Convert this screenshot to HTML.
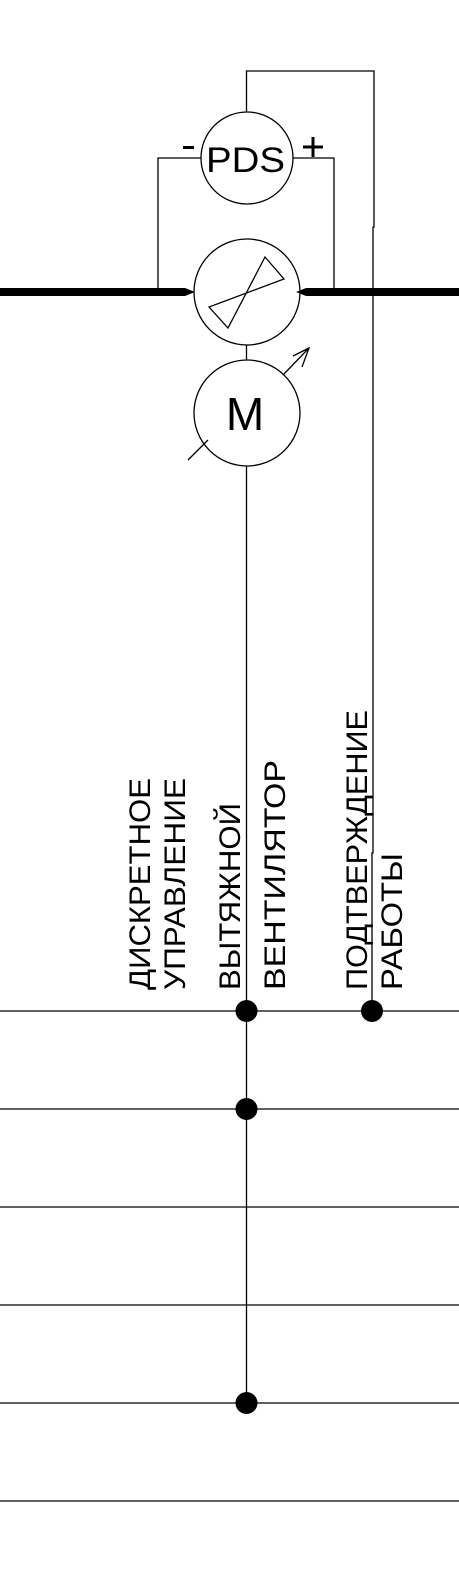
<!DOCTYPE html>
<html><head><meta charset="utf-8"><style>
html,body{margin:0;padding:0;background:#fff;width:459px;height:1594px;overflow:hidden}
svg{display:block}
text{font-family:"Liberation Sans",Arial,sans-serif;fill:#000}
</style></head><body>
<svg width="459" height="1594" viewBox="0 0 459 1594" xmlns="http://www.w3.org/2000/svg">
<g stroke="#000" stroke-width="1.3" fill="none">
  <path d="M246.5 112 V71 H374 V227 H373 V853 H372 V1011"/>
  <circle cx="247" cy="158" r="46"/>
  <path d="M201 158 H158 V292"/>
  <path d="M293 158 H334 V292"/>
  <circle cx="247" cy="292" r="53"/>
  <polygon points="265,257 284,279 209,307 228,328"/>
  <line x1="246.5" y1="345" x2="246.5" y2="360"/>
  <circle cx="247" cy="413" r="53"/>
  <path d="M283 375 L309 348 M293 356 L309 348 L302 367"/>
  <line x1="188" y1="460" x2="208" y2="440"/>
  <line x1="246.5" y1="466" x2="246.5" y2="1403"/>
  <line x1="0" y1="1011" x2="459" y2="1011"/>
  <line x1="0" y1="1109" x2="459" y2="1109"/>
  <line x1="0" y1="1207" x2="459" y2="1207"/>
  <line x1="0" y1="1305" x2="459" y2="1305"/>
  <line x1="0" y1="1403" x2="459" y2="1403"/>
  <line x1="0" y1="1501" x2="459" y2="1501"/>
</g>
<g fill="#000">
  <path d="M0 288 H185 L195 292 L185 296 H0 Z"/>
  <path d="M459 288 H306 L296 292 L306 296 H459 Z"/>
  <rect x="183" y="146" width="11" height="3"/>
  <rect x="303" y="145.5" width="20" height="3"/>
  <rect x="311.5" y="137" width="3" height="20"/>
  <circle cx="246.5" cy="1011" r="11"/>
  <circle cx="372" cy="1011" r="11"/>
  <circle cx="246.5" cy="1109" r="11"/>
  <circle cx="246.5" cy="1403" r="11"/>
</g>
<text x="206" y="172" font-size="35" textLength="79" lengthAdjust="spacingAndGlyphs">PDS</text>
<text x="245" y="430" font-size="46" text-anchor="middle">M</text>
<g font-size="30">
  <text transform="translate(150,990) rotate(-90)" textLength="212" lengthAdjust="spacingAndGlyphs">ДИСКРЕТНОЕ</text>
  <text transform="translate(185,990) rotate(-90)" textLength="212" lengthAdjust="spacingAndGlyphs">УПРАВЛЕНИЕ</text>
  <text transform="translate(240,990) rotate(-90)" textLength="187" lengthAdjust="spacingAndGlyphs">ВЫТЯЖНОЙ</text>
  <text transform="translate(285,990) rotate(-90)" textLength="230" lengthAdjust="spacingAndGlyphs">ВЕНТИЛЯТОР</text>
  <text transform="translate(367,990) rotate(-90)" textLength="280" lengthAdjust="spacingAndGlyphs">ПОДТВЕРЖДЕНИЕ</text>
  <text transform="translate(402,990) rotate(-90)" textLength="137" lengthAdjust="spacingAndGlyphs">РАБОТЫ</text>
</g>
</svg>
</body></html>
